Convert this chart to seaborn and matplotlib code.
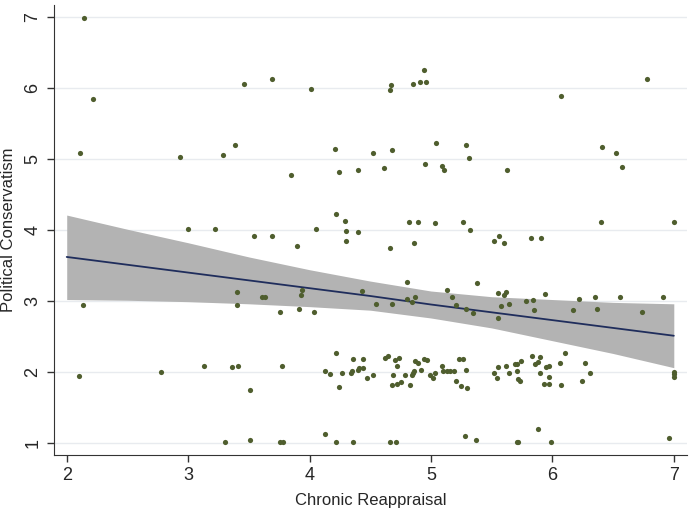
import matplotlib
matplotlib.use("Agg")
import matplotlib.pyplot as plt
import seaborn as sns
import pandas as pd

# scatter points (jittered survey scores)
reappraisal = [
    2.14, 2.22, 2.11, 2.93, 3.29, 3.39, 3.00, 3.22,
    3.46, 3.69, 4.01, 4.67, 4.66, 4.85, 4.91, 4.96, 4.94,
    4.21, 3.85, 4.24, 4.40, 4.52, 4.61, 4.68, 5.04, 4.95, 5.09, 5.11, 5.29, 5.31,
    4.22, 4.29, 4.30, 4.30, 4.40, 4.05, 3.54, 3.69, 3.90, 4.66, 4.82, 4.89, 5.03, 4.86, 5.26, 5.32,
    6.78, 6.07, 5.63, 6.41, 6.52, 6.57, 5.52, 5.56, 5.60, 5.82, 5.91, 6.40, 7.00,
    2.13, 3.40, 3.40, 3.61, 3.63, 3.94, 3.93, 3.76, 3.91, 4.04, 4.43, 4.55, 4.68, 4.80, 4.80,
    4.84, 4.87, 5.13, 5.17, 5.21, 5.29, 5.35, 5.38, 5.55, 5.60, 5.62, 5.58, 5.64, 5.55, 5.78,
    5.84, 5.85, 5.94, 6.17, 6.22, 6.35, 6.37, 6.56, 6.74, 6.91,
    2.10, 2.78, 3.13, 3.36, 3.41, 3.51, 3.77, 4.22, 4.13, 4.17, 4.24, 4.27, 4.34, 4.35,
    4.36, 4.40, 4.41, 4.44, 4.44, 4.47, 4.52, 4.62, 4.65, 4.70, 4.74, 4.72, 4.69, 4.68, 4.72,
    4.75, 4.79, 4.83, 4.84, 4.85, 4.86, 4.87, 4.89, 4.92, 4.94, 4.97, 4.99, 5.02, 5.03, 5.09,
    5.10, 5.13, 5.16, 5.19, 5.21, 5.23, 5.26, 5.25, 5.29, 5.30,
    5.52, 5.55, 5.54, 5.62, 5.64, 5.69, 5.71, 5.74, 5.71, 5.72, 5.73, 5.83, 5.86, 5.88, 5.90,
    5.90, 5.95, 5.97, 5.97, 5.93, 5.97, 6.07, 6.06, 6.10, 6.27, 6.31, 6.24, 7.00, 7.00, 7.00,
    3.30, 3.51, 3.76, 3.78, 4.13, 4.22, 4.36, 4.66, 4.71, 5.28, 5.37, 5.71, 5.72, 5.88, 5.99, 6.96,
]
conservatism = [
    6.98, 5.85, 5.09, 5.03, 5.06, 5.20, 4.01, 4.01,
    6.06, 6.13, 5.98, 6.04, 5.97, 6.06, 6.09, 6.09, 6.25,
    5.14, 4.77, 4.81, 4.84, 5.08, 4.87, 5.12, 5.23, 4.93, 4.90, 4.84, 5.20, 5.01,
    4.23, 4.13, 3.98, 3.85, 3.97, 4.02, 3.92, 3.92, 3.77, 3.75, 4.11, 4.11, 4.10, 3.81, 4.11, 4.00,
    6.12, 5.89, 4.84, 5.17, 5.08, 4.89, 3.85, 3.92, 3.81, 3.88, 3.89, 4.11, 4.11,
    2.95, 3.13, 2.95, 3.05, 3.05, 3.16, 3.09, 2.85, 2.88, 2.84, 3.14, 2.96, 2.96, 3.27, 3.03,
    2.98, 3.05, 3.15, 3.06, 2.94, 2.88, 2.83, 3.26, 3.11, 3.09, 3.12, 2.93, 2.96, 2.76, 3.00,
    3.02, 2.87, 3.10, 2.87, 3.03, 3.06, 2.89, 3.05, 2.85, 3.06,
    1.94, 2.00, 2.08, 2.07, 2.09, 1.75, 2.09, 2.26, 2.01, 1.97, 1.79, 1.98, 1.99, 2.01,
    2.18, 2.03, 2.05, 2.18, 2.06, 1.91, 1.96, 2.20, 2.22, 2.17, 2.20, 2.08, 1.96, 1.81, 1.83,
    1.86, 1.96, 1.81, 1.95, 1.99, 2.02, 2.16, 2.12, 2.03, 2.18, 2.17, 1.96, 1.91, 1.98, 2.09,
    2.02, 2.01, 2.01, 2.01, 1.87, 2.18, 2.18, 1.80, 2.03, 1.78,
    1.99, 2.07, 1.91, 2.09, 1.99, 2.11, 2.11, 2.16, 2.01, 1.90, 1.87, 2.23, 2.11, 2.14, 2.21,
    1.99, 2.07, 2.08, 1.93, 1.83, 1.83, 1.81, 2.13, 2.26, 2.13, 1.98, 1.87, 2.00, 1.97, 1.93,
    1.01, 1.04, 1.01, 1.01, 1.12, 1.01, 1.01, 1.01, 1.01, 1.10, 1.04, 1.01, 1.01, 1.20, 1.01, 1.07,
]

# fitted line and 95% band
fit_x = [2, 2.5, 3, 3.5, 4, 4.5, 5, 5.5, 6, 6.5, 7]
fit_y = [3.62, 3.51, 3.40, 3.29, 3.18, 3.07, 2.95, 2.84, 2.73, 2.62, 2.51]
ci_hi = [4.21, 4.01, 3.82, 3.62, 3.44, 3.28, 3.14, 3.06, 3.02, 2.98, 2.96]
ci_lo = [3.02, 3.01, 2.99, 2.96, 2.92, 2.87, 2.76, 2.62, 2.44, 2.26, 2.06]

df = pd.DataFrame({"x": reappraisal, "y": conservatism})
fit = pd.DataFrame({"x": fit_x, "y": fit_y, "lo": ci_lo, "hi": ci_hi})

sns.set_style("white")
plt.rcParams['font.family'] = ['Liberation Sans', 'DejaVu Sans']

fig = plt.figure(figsize=(6.92, 5.11), dpi=100)
ax = fig.add_axes([0.078, 0.1096, 0.915, 0.88])

for yv in range(1, 8):
    ax.axhline(yv, color='#e8ebef', lw=1.0, zorder=0)

ax.fill_between(fit["x"], fit["lo"], fit["hi"], color='#b3b3b3', lw=0, zorder=1)
sns.lineplot(data=fit, x="x", y="y", color='#1f2d5c', lw=1.3, ax=ax, zorder=2)
sns.scatterplot(data=df, x="x", y="y", color='#4f5e2e', s=14, linewidth=0, ax=ax, zorder=3)

ax.set_xlim(1.895, 7.11)
ax.set_ylim(0.83, 7.165)
ax.set_xticks([2, 3, 4, 5, 6, 7])
ax.set_yticks([1, 2, 3, 4, 5, 6, 7])
ax.tick_params(axis='both', direction='out', length=5, width=1, color='#333333',
               labelsize=13, pad=4, bottom=True, left=True)
for lab in ax.get_yticklabels():
    lab.set_rotation(90)
    lab.set_va('center')

ax.set_xlabel("Chronic Reappraisal", fontsize=12, labelpad=6)
ax.set_ylabel("Political Conservatism", fontsize=12, labelpad=6)

sns.despine(ax=ax)
ax.spines['left'].set_color('#333333')
ax.spines['bottom'].set_color('#333333')

plt.savefig('out.png', dpi=100)
